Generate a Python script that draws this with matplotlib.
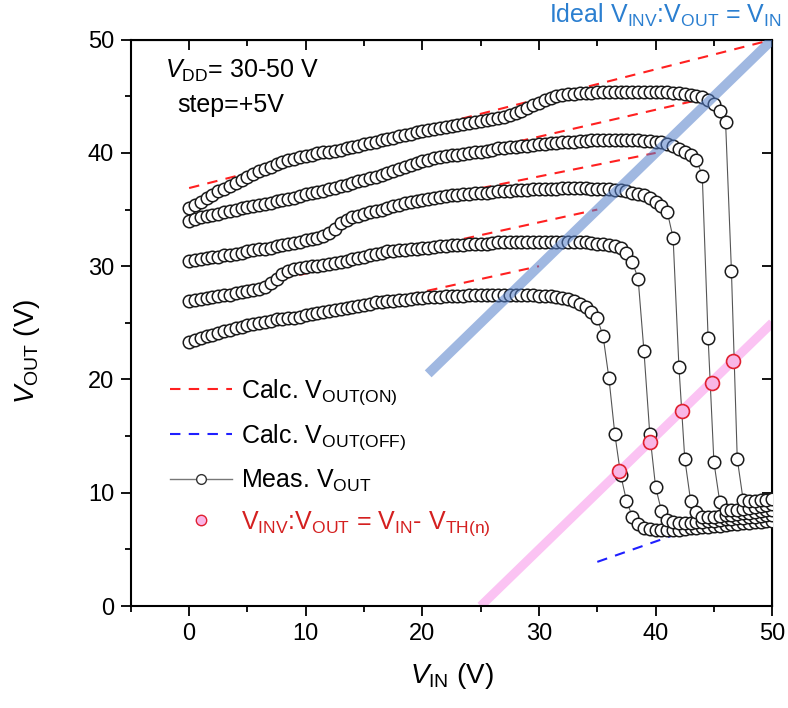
import matplotlib
matplotlib.use("Agg")
import matplotlib.pyplot as plt
from matplotlib.ticker import MultipleLocator
from matplotlib.lines import Line2D
import numpy as np

plt.rcParams["font.family"] = ["Liberation Sans", "DejaVu Sans"]
plt.rcParams["mathtext.fontset"] = "custom"
plt.rcParams["mathtext.rm"] = "Liberation Sans"
plt.rcParams["mathtext.it"] = "Liberation Sans:italic"

# ---- data ----
VIN = np.arange(0, 50.01, 0.5)

VOUT_30 = [23.3, 23.5, 23.65, 23.8, 23.95, 24.1, 24.25, 24.4, 24.55, 24.65,
           24.8, 24.9, 25.0, 25.1, 25.2, 25.3, 25.35, 25.4, 25.45, 25.55,
           25.65, 25.75, 25.85, 25.95, 26.05, 26.1, 26.2, 26.3, 26.4, 26.5,
           26.6, 26.7, 26.8, 26.85, 26.9, 26.95, 27.0, 27.05, 27.1, 27.15,
           27.2, 27.25, 27.3, 27.3, 27.35, 27.35, 27.4, 27.4, 27.45, 27.45,
           27.5, 27.5, 27.5, 27.5, 27.5, 27.5, 27.5, 27.5, 27.45, 27.45,
           27.4, 27.4, 27.35, 27.3, 27.2, 27.1, 26.9, 26.7, 26.4, 26.0,
           25.4, 23.8, 20.1, 15.2, 11.6, 9.3, 7.9, 7.2, 6.9, 6.8,
           6.75, 6.7, 6.7, 6.7, 6.75, 6.8, 6.85, 6.9, 6.95, 7.0,
           7.05, 7.1, 7.15, 7.2, 7.25, 7.3, 7.35, 7.4, 7.45, 7.5,
           7.5]
VOUT_35 = [26.9, 27.0, 27.1, 27.2, 27.3, 27.4, 27.45, 27.5, 27.6, 27.7,
           27.8, 27.9, 28.0, 28.2, 28.5, 28.9, 29.3, 29.6, 29.75, 29.85,
           29.9, 30.0, 30.05, 30.1, 30.2, 30.3, 30.4, 30.5, 30.6, 30.7,
           30.85, 31.0, 31.1, 31.2, 31.3, 31.35, 31.4, 31.45, 31.5, 31.55,
           31.6, 31.65, 31.7, 31.75, 31.8, 31.85, 31.9, 31.9, 31.95, 32.0,
           32.0, 32.0, 32.05, 32.1, 32.1, 32.1, 32.1, 32.1, 32.1, 32.1,
           32.1, 32.1, 32.1, 32.1, 32.1, 32.1, 32.1, 32.1, 32.1, 32.05,
           32.0, 32.0, 31.9, 31.8, 31.6, 31.2, 30.4, 28.9, 22.5, 15.2,
           10.5, 8.4, 7.6, 7.4, 7.3, 7.3, 7.35, 7.4, 7.45, 7.5,
           7.55, 7.6, 7.65, 7.7, 7.75, 7.8, 7.85, 7.9, 7.95, 8.0,
           8.0]
VOUT_40 = [30.45, 30.55, 30.65, 30.7, 30.8, 30.85, 30.95, 31.0, 31.1, 31.2,
           31.3, 31.4, 31.5, 31.55, 31.65, 31.75, 31.85, 31.95, 32.05, 32.15,
           32.3, 32.4, 32.5, 32.65, 32.9, 33.3, 33.8, 34.1, 34.3, 34.45,
           34.6, 34.75, 34.9, 35.0, 35.15, 35.3, 35.4, 35.55, 35.65, 35.75,
           35.85, 35.95, 36.05, 36.15, 36.2, 36.25, 36.3, 36.35, 36.4, 36.45,
           36.5, 36.5, 36.55, 36.6, 36.6, 36.65, 36.7, 36.7, 36.75, 36.8,
           36.8, 36.8, 36.85, 36.85, 36.9, 36.9, 36.9, 36.9, 36.9, 36.85,
           36.85, 36.8, 36.8, 36.75, 36.7, 36.6, 36.5, 36.4, 36.25, 36.0,
           35.7, 35.3, 34.8, 32.5, 21.1, 13.0, 9.3, 8.3, 7.9, 7.85,
           7.9, 7.95, 8.0, 8.05, 8.1, 8.2, 8.25, 8.3, 8.4, 8.45,
           8.5]
VOUT_45 = [34.0, 34.15, 34.3, 34.4, 34.55, 34.65, 34.8, 34.9, 35.0, 35.1,
           35.2, 35.3, 35.4, 35.5, 35.6, 35.75, 35.85, 35.95, 36.05, 36.2,
           36.35, 36.45, 36.55, 36.65, 36.8, 36.9, 37.05, 37.2, 37.35, 37.5,
           37.65, 37.8, 37.9, 38.05, 38.2, 38.4, 38.6, 38.8, 38.95, 39.1,
           39.25, 39.4, 39.55, 39.65, 39.75, 39.8, 39.85, 39.9, 40.0, 40.05,
           40.1, 40.2, 40.3, 40.4, 40.45, 40.5, 40.55, 40.6, 40.65, 40.7,
           40.75, 40.8, 40.85, 40.9, 40.95, 41.0, 41.0, 41.05, 41.05, 41.1,
           41.1, 41.1, 41.1, 41.1, 41.1, 41.1, 41.1, 41.1, 41.05, 41.05,
           41.0, 41.0, 40.8, 40.6, 40.35, 40.1, 39.8, 39.4, 38.0, 23.7,
           12.7, 9.2, 8.5, 8.45, 8.5, 8.55, 8.65, 8.75, 8.85, 8.95,
           9.0]
VOUT_50 = [35.1, 35.4, 35.7, 36.0, 36.3, 36.6, 36.85, 37.1, 37.35, 37.6,
           37.85, 38.1, 38.4, 38.6, 38.8, 39.0, 39.2, 39.35, 39.5, 39.6,
           39.75, 39.85, 39.95, 40.05, 40.1, 40.2, 40.3, 40.4, 40.5, 40.6,
           40.8, 40.9, 41.0, 41.1, 41.2, 41.35, 41.5, 41.6, 41.7, 41.85,
           41.95, 42.05, 42.1, 42.2, 42.3, 42.4, 42.5, 42.55, 42.65, 42.75,
           42.85, 42.95, 43.0, 43.1, 43.2, 43.35, 43.5, 43.7, 43.95, 44.2,
           44.45, 44.7, 44.85, 45.0, 45.1, 45.2, 45.2, 45.25, 45.3, 45.3,
           45.35, 45.35, 45.4, 45.4, 45.4, 45.4, 45.4, 45.4, 45.4, 45.4,
           45.4, 45.35, 45.35, 45.3, 45.25, 45.2, 45.1, 45.0, 44.95, 44.7,
           44.3, 43.7, 42.7, 29.6, 13.0, 9.4, 9.3, 9.3, 9.35, 9.4,
           9.45]
MEAS = [VOUT_30, VOUT_35, VOUT_40, VOUT_45, VOUT_50]

# calculated on-state lines: from (ON_VIN0, ON_START) to (VDD, VDD)
VDD = [30, 35, 40, 45, 50]
ON_VIN0 = [0, 0, 14, 0, 0]
ON_START = [23.2, 27.1, 34.6, 34.3, 36.9]

# calculated off-state line
OFF_VIN = [35.0, 42.5]
OFF_VOUT = [3.9, 6.6]

# inverter switching points
VINV_IN = [36.9, 39.5, 42.3, 44.8, 46.6]
VINV_OUT = [11.95, 14.5, 17.25, 19.7, 21.6]

# reference lines
IDEAL_VIN = [20.5, 50]
VTH_SHIFT = 25
VTH_VIN = [25, 50]

RED = "#FF2020"
BLUE = "#1F1FFF"
DASH = (0, (5, 4))

fig = plt.figure(figsize=(7.88, 7.08), dpi=100)
ax = fig.add_axes([0.166, 0.144, 0.814, 0.800])

for vdd, x0, y0 in zip(VDD, ON_VIN0, ON_START):
    ax.plot([x0, vdd], [y0, vdd], color=RED, lw=1.5, ls=DASH, zorder=1)
ax.plot(OFF_VIN, OFF_VOUT, color=BLUE, lw=1.5, ls=DASH, zorder=1)

ax.plot(VTH_VIN, [v - VTH_SHIFT for v in VTH_VIN], color="#FBC3F3", lw=6.5,
        solid_capstyle="butt", zorder=2)

for vout in MEAS:
    ax.plot(VIN, vout, color="#555555", lw=0.8, marker="o", ms=9,
            mfc="white", mec="#1A1A1A", mew=1.1, zorder=3)

ax.plot(IDEAL_VIN, IDEAL_VIN, color="#527ECA", alpha=0.55, lw=7,
        solid_capstyle="butt", zorder=4)

ax.plot(VINV_IN, VINV_OUT, ls="none", marker="o", ms=10, mfc="#F9B6E6",
        mec="#E02030", mew=1.2, zorder=5)

ax.set_xlim(-5, 50)
ax.set_ylim(0, 50)
ax.xaxis.set_major_locator(MultipleLocator(10))
ax.xaxis.set_minor_locator(MultipleLocator(5))
ax.yaxis.set_major_locator(MultipleLocator(10))
ax.yaxis.set_minor_locator(MultipleLocator(5))
ax.tick_params(which="both", direction="out", top=False, right=False,
               labelsize=17, width=1.3, pad=5)
ax.tick_params(which="major", length=7)
ax.tick_params(which="minor", length=4)
for sp in ax.spines.values():
    sp.set_linewidth(1.5)

# mirrored inward ticks on top/right
sec_x = ax.secondary_xaxis("top")
sec_x.xaxis.set_major_locator(MultipleLocator(10))
sec_x.xaxis.set_minor_locator(MultipleLocator(5))
sec_x.tick_params(which="both", direction="in", labeltop=False, width=1.3)
sec_x.tick_params(which="major", length=7)
sec_x.tick_params(which="minor", length=4)
sec_y = ax.secondary_yaxis("right")
sec_y.yaxis.set_major_locator(MultipleLocator(10))
sec_y.tick_params(which="both", direction="in", labelright=False, width=1.3, length=7)

ax.set_xlabel(r"$\mathit{V}_{\mathregular{IN}}$ (V)", fontsize=20, labelpad=12)
ax.set_ylabel(r"$\mathit{V}_{\mathregular{OUT}}$ (V)", fontsize=20)
ax.yaxis.set_label_coords(-0.138, 0.45)

ax.text(0.053, 0.933, r"$\mathit{V}_{\mathregular{DD}}$= 30-50 V", transform=ax.transAxes,
        fontsize=18, va="baseline")
ax.text(0.072, 0.873, "step=+5V", transform=ax.transAxes, fontsize=18, va="baseline")

fig.text(0.992, 0.978, r"Ideal V$_{\mathregular{INV}}$:V$_{\mathregular{OUT}}$ = V$_{\mathregular{IN}}$",
         color="#2B7FD0", fontsize=18, ha="right", va="center")

handles = [
    Line2D([], [], color=RED, lw=1.5, ls=DASH),
    Line2D([], [], color=BLUE, lw=1.5, ls=DASH),
    Line2D([], [], color="#777777", lw=1.0, marker="o", ms=7, mfc="white", mec="#333333"),
    Line2D([], [], ls="none", marker="o", ms=7.5, mfc="#F9B6E6", mec="#E02030", mew=1.0),
]
labels = [r"Calc. V$_{\mathregular{OUT(ON)}}$", r"Calc. V$_{\mathregular{OUT(OFF)}}$",
          r"Meas. V$_{\mathregular{OUT}}$",
          r"V$_{\mathregular{INV}}$:V$_{\mathregular{OUT}}$ = V$_{\mathregular{IN}}$- V$_{\mathregular{TH(n)}}$"]
leg = ax.legend(handles, labels, loc="upper left", bbox_to_anchor=(0.045, 0.422),
                frameon=False, fontsize=18, handlelength=2.5, handletextpad=0.35,
                labelspacing=0.62, borderaxespad=0)
leg.get_texts()[3].set_color("#D42020")

plt.savefig("out.png", dpi=100)
plt.close()
